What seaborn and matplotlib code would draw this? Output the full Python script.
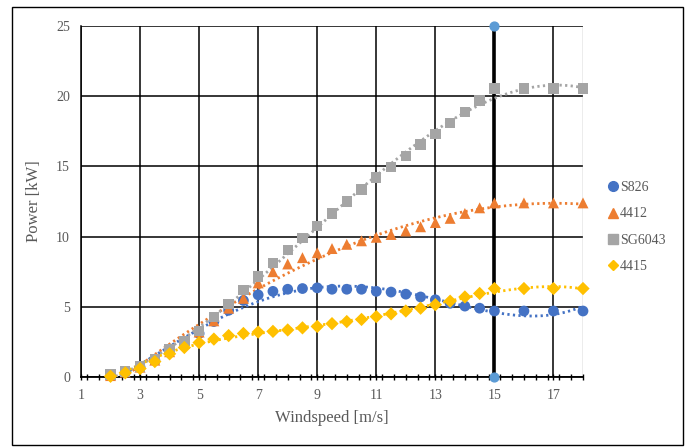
import numpy as np
import pandas as pd
import matplotlib
matplotlib.use("Agg")
import matplotlib.pyplot as plt
import seaborn as sns
from matplotlib.ticker import MultipleLocator
from matplotlib.lines import Line2D
from matplotlib.patches import Rectangle

windspeed = [2, 2.5, 3, 3.5, 4, 4.5, 5, 5.5, 6, 6.5, 7, 7.5, 8, 8.5, 9, 9.5, 10,
             10.5, 11, 11.5, 12, 12.5, 13, 13.5, 14, 14.5, 15, 16, 17, 18]
s826 = [0.1, 0.35, 0.7, 1.2, 1.8, 2.4, 3.1, 3.95, 4.75, 5.45, 5.85, 6.1, 6.25, 6.3, 6.35,
        6.25, 6.25, 6.25, 6.1, 6.05, 5.9, 5.7, 5.5, 5.25, 5.05, 4.9, 4.7, 4.7, 4.7, 4.7]
p4412 = [0.1, 0.35, 0.7, 1.2, 1.8, 2.4, 3.2, 4.0, 4.9, 5.6, 6.7, 7.5, 8.05, 8.5, 8.85,
         9.15, 9.45, 9.7, 9.95, 10.15, 10.4, 10.7, 11.0, 11.3, 11.65, 12.05, 12.4, 12.4, 12.4, 12.4]
sg6043 = [0.17, 0.4, 0.75, 1.3, 1.95, 2.55, 3.3, 4.25, 5.2, 6.2, 7.15, 8.1, 9.05, 9.9,
          10.75, 11.65, 12.5, 13.35, 14.2, 14.95, 15.75, 16.55, 17.3, 18.1, 18.85, 19.7,
          20.55, 20.55, 20.55, 20.55]
p4415 = [0.05, 0.3, 0.6, 1.1, 1.65, 2.1, 2.45, 2.7, 2.95, 3.1, 3.2, 3.25, 3.35, 3.5, 3.6,
         3.8, 3.95, 4.1, 4.3, 4.5, 4.7, 4.9, 5.15, 5.4, 5.7, 5.95, 6.3, 6.3, 6.3, 6.3]
series_names = ["S826", "4412", "SG6043", "4415"]
trend_order = {"S826": 4, "4412": 3, "SG6043": 4, "4415": 4}
marker_line_x = [15, 15]
marker_line_y = [0, 25]
x_ticks = [1, 3, 5, 7, 9, 11, 13, 15, 17]
y_ticks = [0, 5, 10, 15, 20, 25]

colors = {"S826": "#4472C4", "4412": "#ED7D31", "SG6043": "#A5A5A5", "4415": "#FFC000"}
markers = {"S826": "o", "4412": "^", "SG6043": "s", "4415": "D"}
sizes = {"S826": 60, "4412": 62, "SG6043": 55, "4415": 46}

values = {"S826": s826, "4412": p4412, "SG6043": sg6043, "4415": p4415}
df = pd.concat([pd.DataFrame({"Windspeed": windspeed, "Power": values[n], "Series": n})
                for n in series_names], ignore_index=True)

sns.set_theme(style="white")
plt.rcParams["font.family"] = ["Liberation Serif", "DejaVu Serif"]
text_color = "#595959"

fig = plt.figure(figsize=(6.85, 4.48), dpi=100)
ax = fig.add_axes([81 / 685, 1 - 377 / 448, (583 - 81) / 685, (377 - 26) / 448])

ax.set_xlim(1, 18)
ax.set_ylim(0, 25)

# gridlines
for xv in x_ticks:
    ax.axvline(xv, color="black", lw=1.1, zorder=1)
for yv in y_ticks:
    ax.axhline(yv, color="black", lw=1.1, zorder=1)
ax.axvline(18, color="#A0A0A0", lw=1.0, zorder=1)

# vertical marker line at 15
ax.plot(marker_line_x, marker_line_y, color="black", lw=2.6, zorder=2)
ax.scatter(marker_line_x, marker_line_y, s=40, color="#5B9BD5", zorder=6, clip_on=False)

# polynomial trendlines (like Excel)
xs = np.linspace(min(windspeed), max(windspeed), 300)
for n in series_names:
    coef = np.polyfit(windspeed, values[n], trend_order[n])
    ax.plot(xs, np.polyval(coef, xs), color=colors[n], lw=2.0,
            linestyle=(0, (0.8, 1.2)), zorder=3)

for i, n in enumerate(series_names):
    sub = df[df["Series"] == n]
    sns.scatterplot(data=sub, x="Windspeed", y="Power", ax=ax, color=colors[n],
                    marker=markers[n], s=sizes[n], edgecolor="none", linewidth=0,
                    zorder=4 + i * 0.1, legend=False, clip_on=False)

ax.set_xticks(x_ticks)
ax.set_yticks(y_ticks)
ax.xaxis.set_minor_locator(MultipleLocator(0.4))
ax.tick_params(axis="x", which="minor", direction="inout", length=5, width=1.0,
               color="black", bottom=True)
ax.tick_params(axis="x", which="major", direction="inout", length=5, width=1.0,
               color="black", bottom=True, labelsize=10, labelcolor=text_color, pad=6)
ax.tick_params(axis="y", which="major", length=0, labelsize=10,
               labelcolor=text_color, pad=8)
ax.set_xticklabels([str(v) for v in x_ticks])
ax.set_yticklabels([str(v) for v in y_ticks])

for side in ["top", "right"]:
    ax.spines[side].set_visible(False)
ax.spines["left"].set_color("black")
ax.spines["left"].set_linewidth(1.1)
ax.spines["bottom"].set_color("black")
ax.spines["bottom"].set_linewidth(1.3)

ax.set_xlabel("Windspeed [m/s]", fontsize=12, color=text_color, labelpad=6)
ax.set_ylabel("Power [kW]", fontsize=12, color=text_color, labelpad=10)

handles = [Line2D([], [], linestyle="none", marker=markers[n], color=colors[n],
                  markersize=7 if n != "4415" else 5.5) for n in series_names]
leg = fig.legend(handles, series_names, loc="center left",
                 bbox_to_anchor=(600 / 685, 1 - 227 / 448), frameon=False,
                 fontsize=10, labelspacing=0.95, handletextpad=0.05,
                 handlelength=1.0, borderaxespad=0)
for t in leg.get_texts():
    t.set_color(text_color)

fig.patches.append(Rectangle((12 / 685, 3 / 448), 671 / 685, 438 / 448,
                             transform=fig.transFigure, fill=False,
                             edgecolor="black", lw=1.0))

fig.savefig("out.png", dpi=100)
